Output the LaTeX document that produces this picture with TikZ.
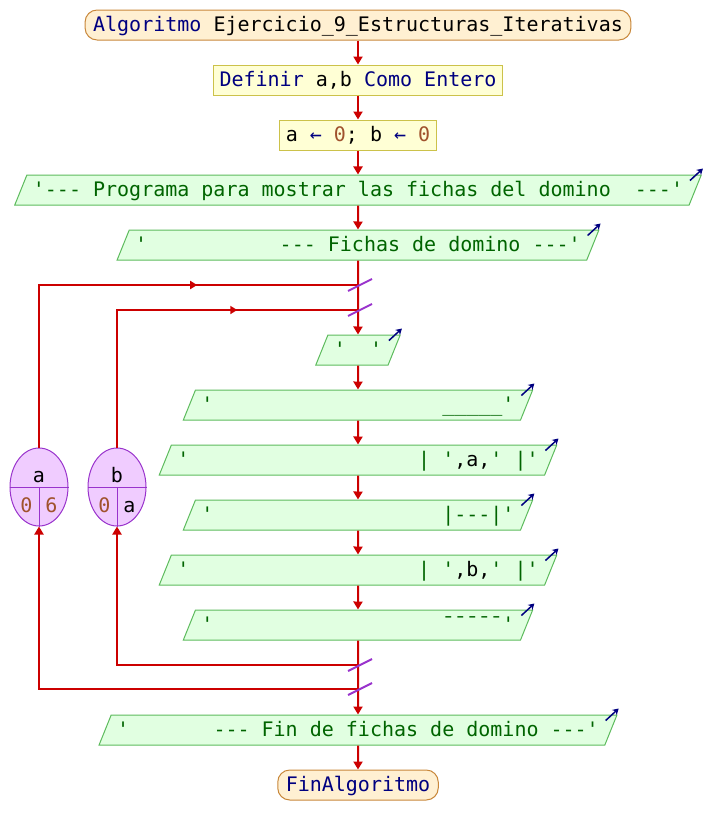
\documentclass[tikz,border=0pt]{standalone}
\usepackage{fontspec}
\setmonofont{DejaVu Sans Mono}
\usetikzlibrary{shapes.geometric,arrows.meta,decorations.markings}

\definecolor{rojo}{HTML}{CC0000}
\definecolor{azul}{HTML}{000080}
\definecolor{verde}{HTML}{006400}
\definecolor{marron}{HTML}{A0522D}
\definecolor{lila}{HTML}{9933CC}
\definecolor{fondoT}{HTML}{FFF0D2}
\definecolor{bordeT}{HTML}{C8873A}
\definecolor{fondoP}{HTML}{FFFFD5}
\definecolor{bordeP}{HTML}{CCC24A}
\definecolor{fondoS}{HTML}{E1FFE1}
\definecolor{bordeS}{HTML}{5DBB5D}
\definecolor{fondoC}{HTML}{F0CCFF}

\newcommand\cad[1]{\textcolor{verde}{#1}}
\newcommand\kw[1]{\textcolor{azul}{#1}}
\newcommand\nro[1]{\textcolor{marron}{#1}}
\newcommand\blanks[1]{\hspace*{#1\fontcharwd\font`0}}

\tikzset{
  base/.style={font=\ttfamily\fontsize{20pt}{24pt}\selectfont, text height=15.5pt, text depth=2.5pt, inner ysep=6pt, line width=1pt},
  terminal/.style={base, rectangle, rounded corners=12pt, draw=bordeT, fill=fondoT, inner xsep=8pt},
  proceso/.style={base, rectangle, draw=bordeP, fill=fondoP, inner xsep=6pt},
  salida/.style={base, trapezium, trapezium left angle=68, trapezium right angle=112, draw=bordeS, fill=fondoS, inner xsep=6pt},
  contador/.style={ellipse, draw=lila, fill=fondoC, minimum width=58pt, minimum height=78pt, inner sep=0pt, line width=1pt},
  valor/.style={font=\ttfamily\fontsize{20pt}{24pt}\selectfont, inner sep=0pt, anchor=base},
  flecha/.style={draw=rojo, line width=2pt, -{Triangle[width=9pt,length=8pt]}},
  bucle/.style={draw=rojo, color=rojo, line width=2pt, postaction=decorate,
    decoration={markings, mark=at position #1 with {\arrow{Triangle[width=8pt,length=7pt]}}}},
  corte/.style={draw=lila, line width=2pt},
  icono/.style={draw=azul, line width=1.5pt, -{Stealth[width=7pt,length=6pt]}}
}

\begin{document}
\begin{tikzpicture}[x=1pt, y=1pt, node distance=55pt]
    \useasboundingbox (0,0) rectangle (704,-835);

    \node [terminal] (ini) at (358,-25) {\kw{Algoritmo} Ejercicio\_9\_Estructuras\_Iterativas};
    \node [proceso] (def) [below of=ini] {\kw{Definir} a,b \kw{Como Entero}};
    \node [proceso] (asig) [below of=def] {a \kw{←} \nro{0}; b \kw{←} \nro{0}};
    \node [salida] (tit) [below of=asig] {\cad{'--- Programa para mostrar las fichas del domino\blanks{2}---'}};
    \node [salida] (sub) [below of=tit] {\cad{'\blanks{11}--- Fichas de domino ---'}};
    \node [salida] (vacio) [below of=sub, node distance=105pt] {\cad{'\blanks{2}'}};
    \node [salida] (linA) [below of=vacio] {\cad{'\blanks{19}\_\_\_\_\_'}};
    \node [salida] (filA) [below of=linA] {\cad{'\blanks{19}| '},a,\cad{' |'}};
    \node [salida] (medio) [below of=filA] {\cad{'\blanks{19}|---|'}};
    \node [salida] (filB) [below of=medio] {\cad{'\blanks{19}| '},b,\cad{' |'}};
    \node [salida] (linB) [below of=filB] {\cad{'\blanks{19}¯¯¯¯¯'}};
    \node [salida] (cierre) [below of=linB, node distance=105pt] {\cad{'\blanks{7}--- Fin de fichas de domino ---'}};
    \node [terminal] (fin) [below of=cierre] {\kw{FinAlgoritmo}};

    % contadores de los dos Para
    \node [contador] (va) at (39,-487) {};
    \node [contador] (vb) at (117,-487) {};
    \draw[lila, line width=1pt] (va.west) -- (va.east) (va.center) -- (va.south);
    \draw[lila, line width=1pt] (vb.west) -- (vb.east) (vb.center) -- (vb.south);
    \node [valor] (vaNom) at ([yshift=5pt]va.center) {a};
    \node [valor] (vaIni) at ([shift={(-12.5pt,-25pt)}]va.center) {\nro{0}};
    \node [valor] (vaFin) at ([shift={(12.5pt,-25pt)}]va.center) {\nro{6}};
    \node [valor] (vbNom) at ([yshift=5pt]vb.center) {b};
    \node [valor] (vbIni) at ([shift={(-12.5pt,-25pt)}]vb.center) {\nro{0}};
    \node [valor] (vbPaso) at ([shift={(12.5pt,-25pt)}]vb.center) {a};

    \coordinate (jA) at (358,-285);
    \coordinate (jB) at (358,-310);
    \coordinate (jC) at (358,-665);
    \coordinate (jD) at (358,-689);

    \foreach \a/\b in {ini/def, def/asig, asig/tit, tit/sub, sub/vacio, vacio/linA, linA/filA,
                       filA/medio, medio/filB, filB/linB, linB/cierre, cierre/fin}
        \draw[flecha] (\a) -- (\b);

    \draw[bucle=0.666] (va.north) |- (jA);
    \draw[bucle=0.681] (vb.north) |- (jB);
    \draw[flecha] (jC) -| (vb.south);
    \draw[flecha] (jD) -| (va.south);

    \foreach \j in {jA, jB, jC, jD}
        \draw[corte] ([shift={(-10pt,-6pt)}]\j) -- ([shift={(14pt,6pt)}]\j);

    \foreach \n in {tit, sub, vacio, linA, filA, medio, filB, linB, cierre}
        \draw[icono] ([shift={(-12pt,-6pt)}]\n.top right corner) -- ([shift={(1pt,6pt)}]\n.top right corner);

\end{tikzpicture}
\end{document}
